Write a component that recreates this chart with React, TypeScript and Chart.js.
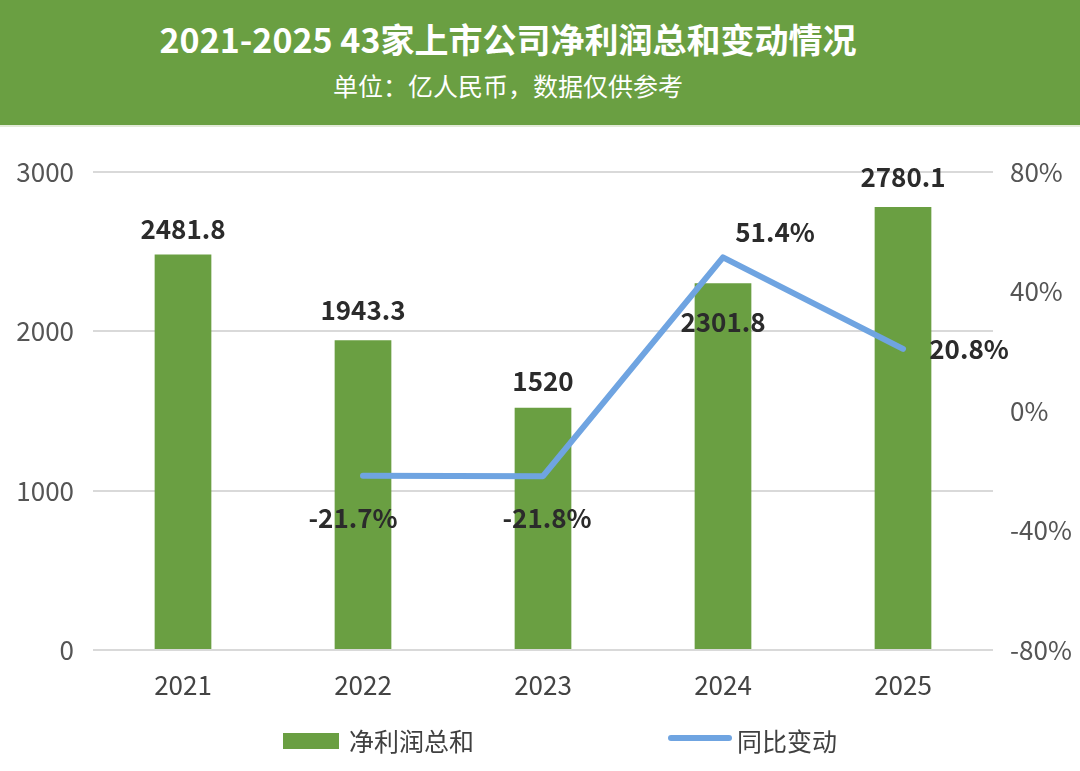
import React, { useEffect, useRef } from "react";
import { Chart, registerables } from "chart.js";

Chart.register(...registerables);

const TITLE = "2021-2025 43家上市公司净利润总和变动情况";
const SUBTITLE = "单位：亿人民币，数据仅供参考";

const years = ["2021", "2022", "2023", "2024", "2025"];
const netProfit = [2481.8, 1943.3, 1520, 2301.8, 2780.1];
const yoyChange: (number | null)[] = [null, -21.7, -21.8, 51.4, 20.8];
const barLabel = "净利润总和";
const lineLabel = "同比变动";

const GREEN = "#6a9f42";
const BLUE = "#6fa4e1";
const FONT = "'Noto Sans CJK SC', 'Noto Sans', sans-serif";

// label offsets (px) relative to each mark
const barLabelOffsets = [[0, -25], [0, -30], [0, -27], [0, 39], [0, -30]];
const lineLabelOffsets = [[0, 0], [-10, 42], [4, 42], [52, -25], [66, 0]];

const valueLabelPlugin = {
  id: "valueLabels",
  afterDatasetsDraw(chart: any) {
    const ctx = chart.ctx;
    ctx.save();
    ctx.textAlign = "center";
    ctx.textBaseline = "middle";
    ctx.fillStyle = "#2b2b2b";
    chart.data.datasets.forEach((ds: any, di: number) => {
      const meta = chart.getDatasetMeta(di);
      const offs = di === 0 ? barLabelOffsets : lineLabelOffsets;
      ctx.font = di === 0 ? `bold 26px ${FONT}` : `600 26px ${FONT}`;
      meta.data.forEach((el: any, i: number) => {
        const v = ds.data[i];
        if (v == null) return;
        const text = di === 0 ? String(v) : `${v}%`;
        ctx.fillText(text, el.x + offs[i][0], el.y + offs[i][1]);
      });
    });
    ctx.restore();
  },
};

const legendPlugin = {
  id: "customLegend",
  afterDraw(chart: any) {
    const ctx = chart.ctx;
    const y = chart.height - 30;
    const ds = chart.data.datasets;
    ctx.save();
    ctx.font = `25px ${FONT}`;
    ctx.textBaseline = "middle";
    ctx.textAlign = "left";
    // item 1: bar
    let x = 283;
    ctx.fillStyle = ds[0].backgroundColor;
    ctx.fillRect(x, y - 8, 56, 16);
    ctx.fillStyle = "#404040";
    ctx.fillText(ds[0].label, x + 66, y);
    // item 2: line
    x = 671;
    ctx.strokeStyle = ds[1].borderColor;
    ctx.lineWidth = 6;
    ctx.lineCap = "round";
    ctx.beginPath();
    ctx.moveTo(x, y - 3);
    ctx.lineTo(x + 58, y - 3);
    ctx.stroke();
    ctx.fillStyle = "#404040";
    ctx.fillText(ds[1].label, x + 66, y);
    ctx.restore();
  },
};

export default function App() {
  const ref = useRef<HTMLCanvasElement | null>(null);

  useEffect(() => {
    if (!ref.current) return;
    const chart = new Chart(ref.current, {
      type: "bar",
      data: {
        labels: years,
        datasets: [
          {
            type: "bar",
            label: barLabel,
            data: netProfit,
            backgroundColor: GREEN,
            borderWidth: 0,
            yAxisID: "y",
            order: 2,
            categoryPercentage: 1,
            barPercentage: 0.315,
          },
          {
            type: "line",
            label: lineLabel,
            data: yoyChange,
            borderColor: BLUE,
            backgroundColor: BLUE,
            borderWidth: 6,
            pointRadius: 0,
            tension: 0,
            borderCapStyle: "round",
            borderJoinStyle: "round",
            yAxisID: "y1",
            order: 1,
          } as any,
        ],
      },
      options: {
        animation: false,
        responsive: false,
        maintainAspectRatio: false,
        layout: { padding: { top: 45, bottom: 61, left: 0, right: 0 } },
        plugins: {
          legend: { display: false },
          tooltip: { enabled: false },
          title: { display: false },
        },
        scales: {
          x: {
            grid: { display: false, drawTicks: false },
            border: { display: false },
            ticks: {
              color: "#444",
              font: { family: FONT, size: 26 },
              padding: 20,
            },
            afterFit: (s: any) => {
              s.height = 60;
            },
          },
          y: {
            position: "left",
            min: 0,
            max: 3000,
            grid: { color: "#d9d9d9", lineWidth: 2, drawTicks: false },
            border: { display: false },
            ticks: {
              stepSize: 1000,
              color: "#555",
              font: { family: FONT, size: 26 },
              padding: 19,
              callback: (v: any) => String(v),
            },
            afterFit: (s: any) => {
              s.width = 93;
            },
          },
          y1: {
            position: "right",
            min: -80,
            max: 80,
            grid: { display: false, drawTicks: false },
            border: { display: false },
            ticks: {
              stepSize: 40,
              color: "#555",
              font: { family: FONT, size: 26 },
              padding: 17,
              callback: (v: any) => `${v}%`,
            },
            afterFit: (s: any) => {
              s.width = 87;
            },
          },
        },
      },
      plugins: [valueLabelPlugin, legendPlugin],
    });
    return () => chart.destroy();
  }, []);

  return (
    <div
      style={{
        position: "fixed",
        left: 0,
        top: 0,
        width: 1080,
        height: 771,
        background: "#fff",
        fontFamily: FONT,
        overflow: "hidden",
      }}
    >
      <div
        style={{
          position: "absolute",
          left: 0,
          top: 0,
          width: 1080,
          height: 125,
          background: GREEN,
          borderBottom: "2px solid #e3ead9",
          color: "#fff",
        }}
      >
        <div
          style={{
            position: "absolute",
            left: 0,
            width: 1016,
            top: 17,
            textAlign: "center",
            fontSize: 34,
            fontWeight: 700,
            lineHeight: "44px",
          }}
        >
          {TITLE}
        </div>
        <div
          style={{
            position: "absolute",
            left: 0,
            width: 1016,
            top: 69,
            textAlign: "center",
            fontSize: 25,
            fontWeight: 400,
            lineHeight: "32px",
          }}
        >
          {SUBTITLE}
        </div>
      </div>
      <canvas
        ref={ref}
        width={1080}
        height={644}
        style={{ position: "absolute", left: 0, top: 127, width: 1080, height: 644 }}
      />
    </div>
  );
}
